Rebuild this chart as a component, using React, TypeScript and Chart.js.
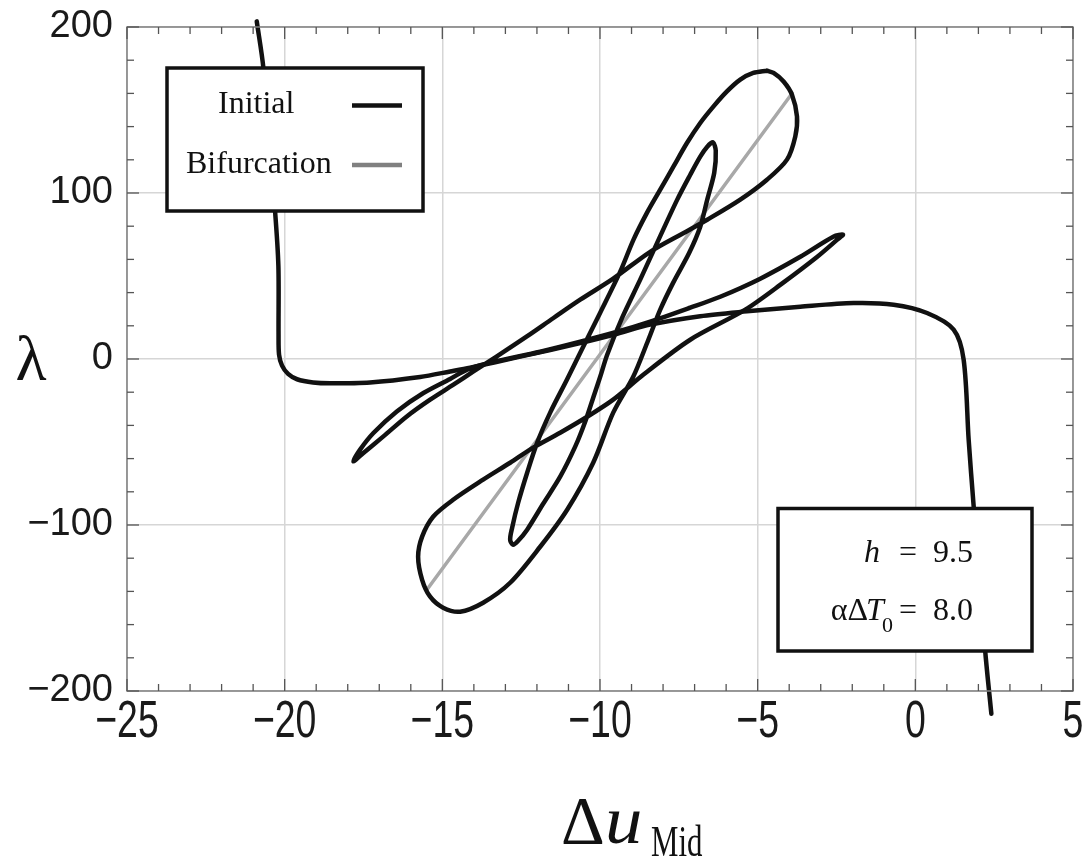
import React, { useEffect, useRef } from 'react';
import { Chart, registerables } from 'chart.js';

Chart.register(...registerables);

// ---- Data ----
// "Initial" branch (open curve)
const initialX = [
  -20.885, -20.675, -20.304, -20.199, -20.194, -20.178, -20.083, -19.892, -19.607, -19.099,
  -18.56, -17.291, -15.704, -14.753, -14.118, -12.532, -10.628, -9.454, -8.407, -6.821,
  -5.34, -3.648, -1.957, -0.688, 0.371, 1.215, 1.532, 1.691, 1.85, 2.221, 2.411,
];
const initialY = [
  203.4, 175.3, 88.9, 55.8, 14.6, 2.6, -4.0, -9.0, -12.2, -14.1,
  -14.6, -14.1, -10.8, -7.5, -5.2, 1.4, 9.6, 15.2, 20.7, 25.8,
  28.7, 31.5, 33.7, 32.7, 27.7, 17.7, -0.4, -48.6, -88.8, -177.1, -213.7,
];

// Closed black loop
const loopX = [
  -4.705, -5.14, -5.552, -5.974, -6.399, -6.821, -7.243, -7.668, -8.09, -8.512,
  -8.937, -9.359, -9.994, -10.533, -11.05, -11.58, -11.992, -12.31, -12.595, -12.786,
  -12.849, -12.754, -12.595, -12.31, -11.802, -11.263, -10.787, -10.47, -10.184, -9.994,
  -9.772, -9.296, -8.725, -8.185, -7.551, -7.138, -6.821, -6.599, -6.418, -6.329,
  -6.377, -6.599, -6.821, -7.17, -7.678, -8.09, -8.503, -8.947, -9.581, -10.216,
  -11.041, -11.897, -12.849, -13.706, -14.435, -14.975, -15.387, -15.641, -15.768, -15.641,
  -15.292, -14.657, -13.706, -12.849, -12.119, -11.263, -10.406, -9.581, -8.629, -7.138,
  -5.393, -4.188, -3.109, -2.475, -2.294, -2.602, -3.648, -4.918, -6.187, -7.138,
  -8.407, -9.454, -10.628, -11.897, -13.484, -14.213, -14.753, -15.6, -16.444, -17.186,
  -17.608, -17.821, -17.503, -16.869, -16.127, -15.387, -14.648, -14.013, -13.271, -12.319,
  -11.475, -10.628, -9.581, -8.407, -7.36, -6.599, -5.552, -4.705, -4.07, -3.807,
  -3.753, -3.912, -4.178, -4.496, -4.705,
];
const loopY = [
  173.7, 172.3, 168.3, 161.2, 152.2, 142.2, 130.1, 116.0, 102.0, 88.0,
  71.9, 52.6, 27.9, 7.4, -12.5, -32.3, -50.4, -68.5, -86.6, -101.6,
  -108.9, -111.9, -109.5, -102.8, -87.2, -70.9, -52.8, -37.8, -21.5, -10.7,
  2.6, 24.9, 47.8, 70.1, 96.0, 111.0, 121.9, 127.9, 130.5, 125.5,
  112.2, 96.0, 79.7, 64.0, 46.0, 29.7, 9.8, -10.7, -32.3, -62.5,
  -90.8, -113.1, -134.8, -146.8, -152.2, -149.8, -143.2, -133.0, -119.1, -107.0,
  -95.0, -84.8, -72.7, -62.5, -53.4, -44.4, -34.8, -24.5, -9.5, 11.6,
  29.7, 46.0, 61.6, 71.9, 74.9, 73.7, 61.6, 48.4, 37.5, 30.9,
  22.5, 16.4, 10.4, 4.4, -2.2, -6.4, -12.0, -20.5, -31.6, -44.6,
  -54.6, -61.7, -56.6, -46.6, -34.6, -24.5, -15.5, -7.5, 1.6, 13.6,
  24.7, 35.7, 48.4, 64.6, 75.8, 83.9, 96.0, 108.0, 120.1, 134.1,
  146.1, 159.2, 167.2, 172.3, 173.7,
];

// Gray "Bifurcation" line
const bifX = [-15.49, -3.9];
const bifY = [-139.0, 160.2];

const xTicks = [-25, -20, -15, -10, -5, 0, 5];
const yTicks = [-200, -100, 0, 100, 200];
const legendLabels = ['Initial', 'Bifurcation'];
const hValue = '9.5';
const alphaValue = '8.0';

const fmt = (v: number) => (v < 0 ? '\u2212' + Math.abs(v) : String(v));
const zip = (xs: number[], ys: number[]) => xs.map((x, i) => ({ x, y: ys[i] }));

const SERIF = '"Liberation Serif", "Times New Roman", serif';
const SANS = '"Liberation Sans", Arial, sans-serif';

const overlayPlugin = {
  id: 'overlay',
  afterDraw(chart: any) {
    const ctx = chart.ctx as CanvasRenderingContext2D;
    const { left, right, top, bottom } = chart.chartArea;
    const xs = chart.scales.x;
    const ys = chart.scales.y;
    const line = (x1: number, y1: number, x2: number, y2: number) => {
      ctx.beginPath();
      ctx.moveTo(x1, y1);
      ctx.lineTo(x2, y2);
      ctx.stroke();
    };
    ctx.save();
    // frame
    ctx.strokeStyle = '#808080';
    ctx.lineWidth = 1.5;
    ctx.strokeRect(left, top, right - left, bottom - top);
    // inward tick marks
    ctx.strokeStyle = '#555';
    ctx.lineWidth = 1.3;
    const xMin = xTicks[0], xMax = xTicks[xTicks.length - 1];
    for (let v = xMin; v <= xMax; v += 1) {
      const p = xs.getPixelForValue(v);
      const len = v % 5 === 0 ? 12 : 7;
      line(p, bottom, p, bottom - len);
      line(p, top, p, top + len);
    }
    const yMin = yTicks[0], yMax = yTicks[yTicks.length - 1];
    for (let v = yMin; v <= yMax; v += 20) {
      const p = ys.getPixelForValue(v);
      const len = v % 100 === 0 ? 12 : 7;
      line(left, p, left + len, p);
      line(right, p, right - len, p);
    }
    // x tick labels (condensed)
    ctx.fillStyle = '#1a1a1a';
    ctx.font = `52px ${SANS}`;
    ctx.textAlign = 'center';
    ctx.textBaseline = 'middle';
    for (const v of xTicks) {
      const p = xs.getPixelForValue(v);
      ctx.save();
      ctx.translate(p, 723);
      ctx.scale(0.72, 1);
      ctx.fillText(fmt(v), 0, 0);
      ctx.restore();
    }
    // axis titles
    ctx.font = `64px ${SERIF}`;
    ctx.textAlign = 'center';
    ctx.textBaseline = 'alphabetic';
    ctx.fillStyle = '#111';
    ctx.fillText('\u03bb', 31, 380);
    ctx.textAlign = 'left';
    ctx.font = `68px ${SERIF}`;
    ctx.fillText('\u0394', 561, 843);
    ctx.save();
    ctx.translate(605, 843);
    ctx.scale(1.1, 1);
    ctx.font = `italic 68px ${SERIF}`;
    ctx.fillText('u', 0, 0);
    ctx.restore();
    ctx.save();
    ctx.translate(651, 856);
    ctx.scale(0.7, 1);
    ctx.font = `44px ${SERIF}`;
    ctx.fillText('Mid', 0, 0);
    ctx.restore();

    // legend box
    ctx.fillStyle = '#fff';
    ctx.fillRect(167, 68, 256, 143);
    ctx.strokeStyle = '#111';
    ctx.lineWidth = 3.5;
    ctx.strokeRect(167, 68, 256, 143);
    ctx.fillStyle = '#111';
    ctx.font = `32px ${SERIF}`;
    ctx.textAlign = 'left';
    ctx.fillText(legendLabels[0], 218, 113);
    ctx.fillText(legendLabels[1], 186, 172.5);
    ctx.lineWidth = 4.5;
    ctx.strokeStyle = '#111';
    line(352, 105.5, 402, 105.5);
    ctx.strokeStyle = '#808080';
    line(352, 165, 402, 165);

    // parameter box
    ctx.fillStyle = '#fff';
    ctx.fillRect(778, 508.5, 254, 142.5);
    ctx.strokeStyle = '#111';
    ctx.lineWidth = 3.5;
    ctx.strokeRect(778, 508.5, 254, 142.5);
    ctx.fillStyle = '#111';
    ctx.font = `italic 32px ${SERIF}`;
    ctx.fillText('h', 864, 562);
    ctx.font = `32px ${SERIF}`;
    ctx.fillText('=', 899, 562);
    ctx.fillText(hValue, 933, 562);
    ctx.textAlign = 'right';
    ctx.fillText('\u03b1\u0394', 868, 620);
    ctx.textAlign = 'left';
    ctx.font = `italic 32px ${SERIF}`;
    ctx.fillText('T', 866, 620);
    ctx.font = `22px ${SERIF}`;
    ctx.fillText('0', 882, 632);
    ctx.font = `32px ${SERIF}`;
    ctx.fillText('=', 899, 620);
    ctx.fillText(alphaValue, 933, 620);
    ctx.restore();
  },
};

export default function App() {
  const ref = useRef<HTMLCanvasElement | null>(null);
  useEffect(() => {
    if (!ref.current) return;
    const chart = new Chart(ref.current, {
      type: 'scatter',
      data: {
        datasets: [
          {
            label: 'Initial',
            data: zip(initialX, initialY),
            showLine: true,
            borderColor: '#111',
            borderWidth: 4.5,
            pointRadius: 0,
            tension: 0.3,
            clip: false,
          } as any,
          {
            label: 'Loop',
            data: zip(loopX, loopY),
            showLine: true,
            borderColor: '#111',
            borderWidth: 4.5,
            pointRadius: 0,
            tension: 0.3,
          },
          {
            label: 'Bifurcation',
            data: zip(bifX, bifY),
            showLine: true,
            borderColor: '#a8a8a8',
            borderWidth: 3.5,
            pointRadius: 0,
            tension: 0,
          },
        ],
      },
      options: {
        responsive: false,
        animation: false,
        devicePixelRatio: 1,
        layout: { padding: { top: 27, right: 13, left: 0, bottom: 0 } },
        plugins: { legend: { display: false }, tooltip: { enabled: false } },
        elements: { point: { radius: 0 }, line: { capBezierPoints: false, borderCapStyle: 'round', borderJoinStyle: 'round' } },
        scales: {
          x: {
            type: 'linear',
            min: xTicks[0],
            max: xTicks[xTicks.length - 1],
            afterBuildTicks: (s: any) => { s.ticks = xTicks.map((v) => ({ value: v })); },
            ticks: { display: false },
            grid: { color: '#d6d6d6', lineWidth: 1.5, drawTicks: false },
            border: { display: false },
            afterFit: (s: any) => { s.height = 170; s.paddingLeft = 0; s.paddingRight = 0; },
          },
          y: {
            type: 'linear',
            min: yTicks[0],
            max: yTicks[yTicks.length - 1],
            afterBuildTicks: (s: any) => { s.ticks = yTicks.map((v) => ({ value: v })); },
            ticks: {
              font: { family: SANS, size: 38 },
              color: '#1a1a1a',
              padding: 14,
              callback: (v: any) => fmt(Number(v)),
            },
            grid: { color: '#d6d6d6', lineWidth: 1.5, drawTicks: false },
            border: { display: false },
            afterFit: (s: any) => { s.width = 127; s.paddingTop = 0; s.paddingBottom = 0; },
          },
        },
      },
      plugins: [overlayPlugin],
    } as any);
    return () => chart.destroy();
  }, []);
  return (
    <div style={{ position: 'absolute', left: 0, top: 0, width: 1086, height: 861, background: '#fff' }}>
      <canvas ref={ref} width={1086} height={861} style={{ display: 'block' }} />
    </div>
  );
}
